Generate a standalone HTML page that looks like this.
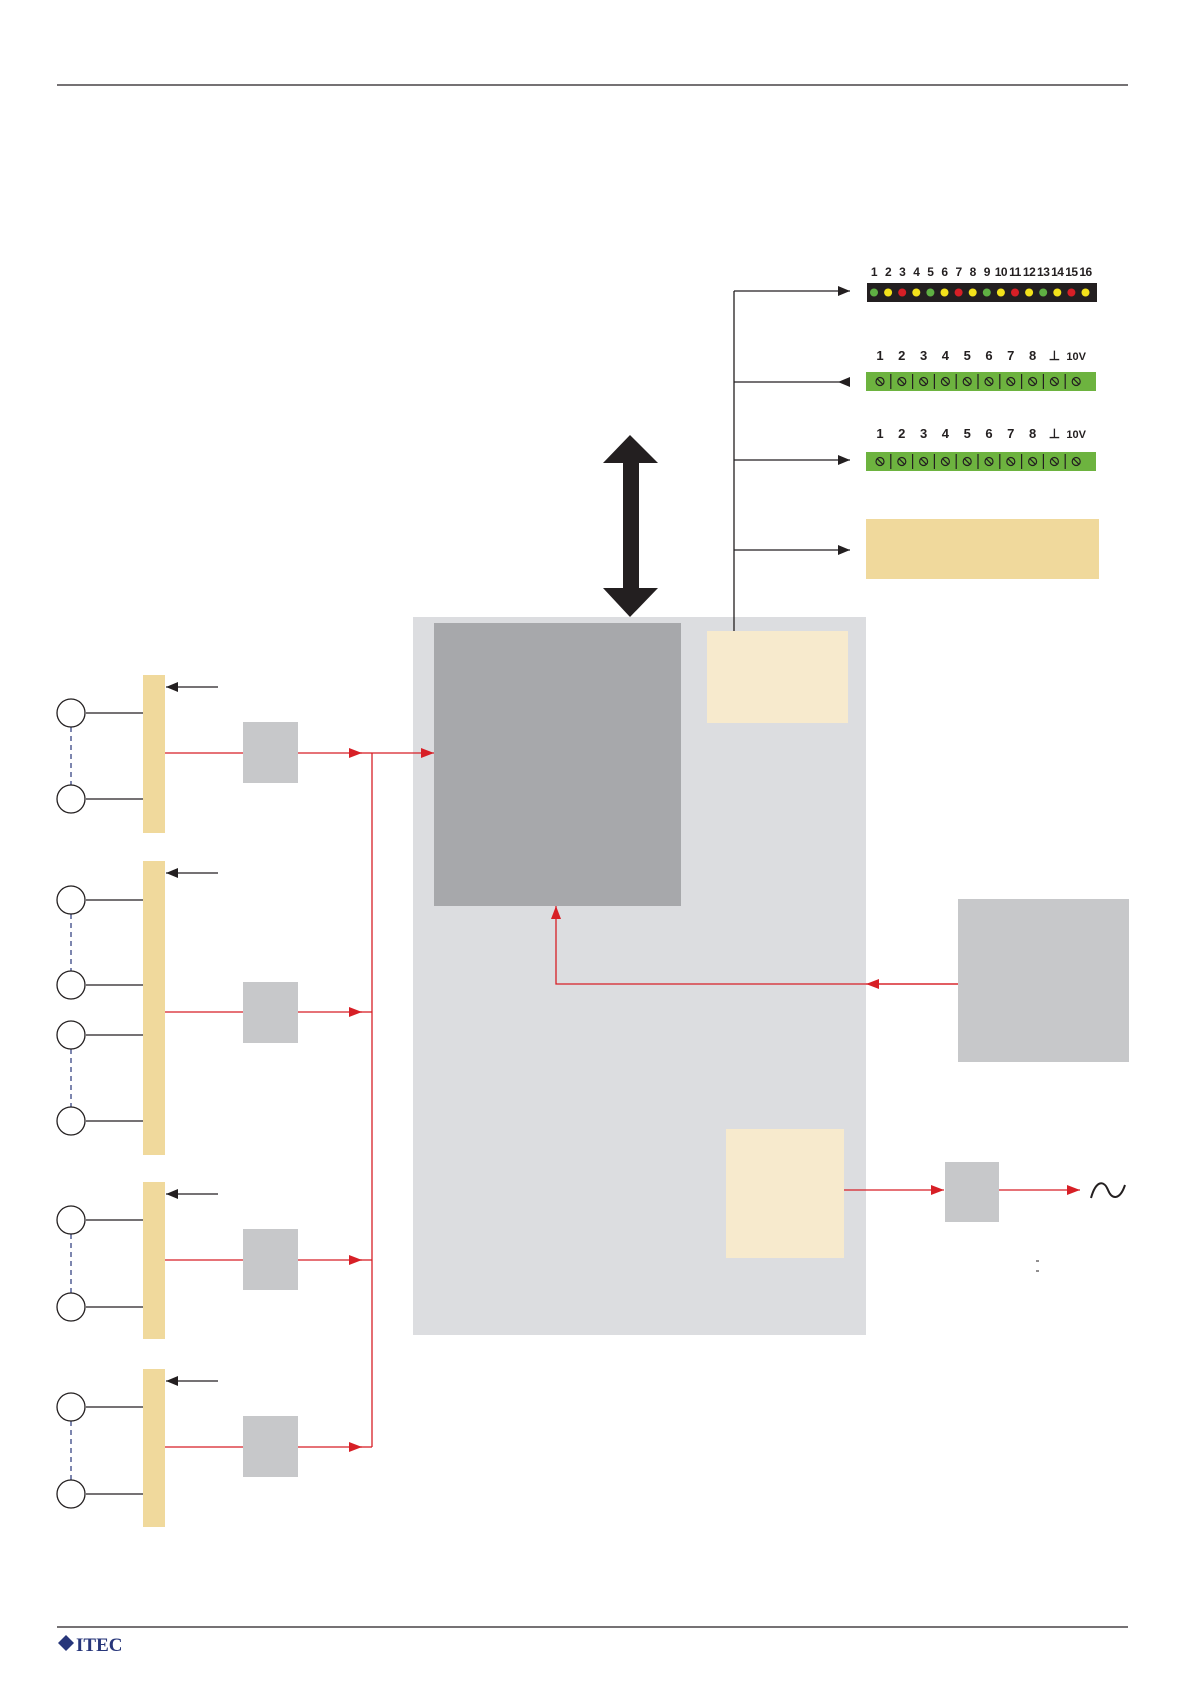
<!DOCTYPE html>
<html><head><meta charset="utf-8"><style>
html,body{margin:0;padding:0;background:#fff;width:1192px;height:1685px;overflow:hidden}
svg{display:block}
text{font-family:"Liberation Sans",Arial,sans-serif;font-weight:bold}
</style></head><body>
<svg id="s" width="1192" height="1685" viewBox="0 0 1192 1685" xmlns="http://www.w3.org/2000/svg">
<defs>
<marker id="ab" markerWidth="12" markerHeight="10" refX="12" refY="5" orient="auto" markerUnits="userSpaceOnUse"><path d="M0,0 L12,5 L0,10 z" fill="#231f20"/></marker>
<marker id="ar" markerWidth="13" markerHeight="10" refX="13" refY="5" orient="auto" markerUnits="userSpaceOnUse"><path d="M0,0 L13,5 L0,10 z" fill="#d71f26"/></marker>
</defs>
<line x1="57" y1="85" x2="1128" y2="85" stroke="#231f20" stroke-width="1.2"/>
<line x1="57" y1="1627" x2="1128" y2="1627" stroke="#231f20" stroke-width="1.2"/>
<g transform="translate(58,1635)">
<path d="M0,8 L8,0 L16,8 L8,16 z" fill="#27367a"/>
<text x="18" y="16" style="font-family:'Liberation Serif',serif;font-weight:bold" font-size="19" fill="#27367a">ITEC</text>
</g>

<rect x="413" y="617" width="453" height="718" fill="#dcdde0"/>
<rect x="434" y="623" width="247" height="283" fill="#a7a8ab"/>
<rect x="707" y="631" width="141" height="92" fill="#f7eacd"/>
<rect x="726" y="1129" width="118" height="129" fill="#f7eacd"/>
<rect x="958" y="899" width="171" height="163" fill="#c7c8ca"/>
<rect x="945" y="1162" width="54" height="60" fill="#c7c8ca"/>

<path d="M630,435 L658,463 L639,463 L639,588 L658,588 L630,617 L603,588 L623,588 L623,463 L603,463 z" fill="#231f20"/>

<line x1="734" y1="291" x2="734" y2="631" stroke="#231f20" stroke-width="1.3"/>
<line x1="734" y1="291" x2="850" y2="291" stroke="#231f20" stroke-width="1.3" marker-end="url(#ab)"/>
<line x1="734" y1="382" x2="850" y2="382" stroke="#231f20" stroke-width="1.3"/>
<path d="M838,382 L850,377 L850,387 z" fill="#231f20"/>
<line x1="734" y1="460" x2="850" y2="460" stroke="#231f20" stroke-width="1.3" marker-end="url(#ab)"/>
<line x1="734" y1="550" x2="850" y2="550" stroke="#231f20" stroke-width="1.3" marker-end="url(#ab)"/>

<rect x="867" y="283" width="230" height="19" fill="#231f20"/>
<rect x="866" y="372" width="230" height="19" fill="#6db33f"/>
<rect x="866" y="452" width="230" height="19" fill="#6db33f"/>
<rect x="866" y="519" width="233" height="60" fill="#f0d99c"/>
<g id="dyn"></g>

<polyline points="958,984 556,984 556,906" fill="none" stroke="#d71f26" stroke-width="1.3" marker-end="url(#ar)"/>
<line x1="958" y1="984" x2="866" y2="984" stroke="#d71f26" stroke-width="1.3" marker-end="url(#ar)"/>
<line x1="844" y1="1190" x2="944" y2="1190" stroke="#d71f26" stroke-width="1.3" marker-end="url(#ar)"/>
<line x1="999" y1="1190" x2="1080" y2="1190" stroke="#d71f26" stroke-width="1.3" marker-end="url(#ar)"/>
<path d="M1091,1198 C1096,1180 1104,1180 1108,1190 C1112,1200 1120,1200 1125,1185" fill="none" stroke="#231f20" stroke-width="2"/>
<line x1="1036" y1="1261" x2="1039" y2="1261" stroke="#231f20" stroke-width="1"/>
<line x1="1036" y1="1271" x2="1039" y2="1271" stroke="#231f20" stroke-width="1"/>

<line x1="372" y1="753" x2="372" y2="1447" stroke="#d71f26" stroke-width="1.3"/>
<line x1="372" y1="753" x2="434" y2="753" stroke="#d71f26" stroke-width="1.3" marker-end="url(#ar)"/>
</svg>
<script>
var NS="http://www.w3.org/2000/svg",g=document.getElementById('dyn');
function el(t,a,p){var e=document.createElementNS(NS,t);for(var k in a)e.setAttribute(k,a[k]);(p||g).appendChild(e);return e;}
var cols=["#5fb043","#f3e21b","#d71f26","#f3e21b"];
for(var i=0;i<16;i++){var x=874+i*14.1;
el('circle',{cx:x,cy:292.5,r:4,fill:cols[i%4]});
var t=el('text',{x:x,y:276,'font-size':12,'text-anchor':'middle',fill:'#231f20','letter-spacing':'-0.5'});t.textContent=(i+1);}
var labs=["1","2","3","4","5","6","7","8","⊥","10V"];
[[372,360],[452,438]].forEach(function(r){
for(var i=0;i<10;i++){var x=880+i*21.8;
if(i>0)el('line',{x1:x-11,y1:r[0]+2,x2:x-11,y2:r[0]+17,stroke:'#231f20','stroke-width':1.2});
el('circle',{cx:x,cy:r[0]+9.5,r:4,fill:'none',stroke:'#231f20','stroke-width':1.2});
el('line',{x1:x-2.8,y1:r[0]+6.7,x2:x+2.8,y2:r[0]+12.3,stroke:'#231f20','stroke-width':1.2});
var t=el('text',{x:x,y:r[1],'font-size':i==9?11:13,'text-anchor':'middle',fill:'#231f20'});t.textContent=labs[i];}
});
var G=[{b:[675,833],a:687,c:[[713,799]],r:753,box:722},
{b:[861,1155],a:873,c:[[900,985],[1035,1121]],r:1012,box:982},
{b:[1182,1339],a:1194,c:[[1220,1307]],r:1260,box:1229},
{b:[1369,1527],a:1381,c:[[1407,1494]],r:1447,box:1416}];
G.forEach(function(q){
el('rect',{x:143,y:q.b[0],width:22,height:q.b[1]-q.b[0],fill:'#f0d99c'});
el('line',{x1:218,y1:q.a,x2:166,y2:q.a,stroke:'#231f20','stroke-width':1.3,'marker-end':'url(#ab)'});
q.c.forEach(function(p){
el('line',{x1:71,y1:p[0]+14,x2:71,y2:p[1]-14,stroke:'#27367a','stroke-width':1.2,'stroke-dasharray':'5,4'});
p.forEach(function(y){el('circle',{cx:71,cy:y,r:14,fill:'#fff',stroke:'#231f20','stroke-width':1.3});
el('line',{x1:86,y1:y,x2:143,y2:y,stroke:'#231f20','stroke-width':1.3});});
});
el('line',{x1:165,y1:q.r,x2:243,y2:q.r,stroke:'#d71f26','stroke-width':1.3});
el('rect',{x:243,y:q.box,width:55,height:61,fill:'#c7c8ca'});
el('line',{x1:298,y1:q.r,x2:362,y2:q.r,stroke:'#d71f26','stroke-width':1.3,'marker-end':'url(#ar)'});
el('line',{x1:360,y1:q.r,x2:372,y2:q.r,stroke:'#d71f26','stroke-width':1.3});
});
</script>
</body></html>
